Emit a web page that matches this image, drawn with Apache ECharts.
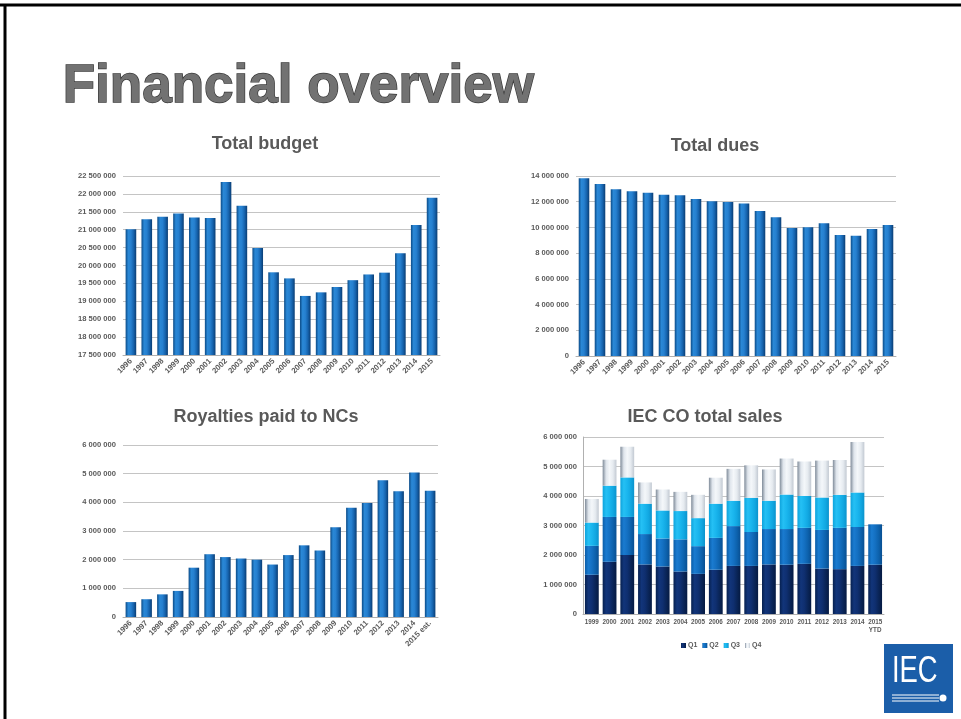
<!DOCTYPE html>
<html>
<head>
<meta charset="utf-8">
<script src="https://cdn.jsdelivr.net/npm/echarts@6/dist/echarts.min.js"></script>
<style>
html,body{margin:0;padding:0;background:#fff;}
#c{width:961px;height:719px;}
</style>
</head>
<body>
<div id="c"></div>
<script>
const years = ['1996','1997','1998','1999','2000','2001','2002','2003','2004','2005','2006','2007','2008','2009','2010','2011','2012','2013','2014','2015'];
const budget = [21010000,21290000,21360000,21450000,21340000,21330000,22330000,21670000,20490000,19810000,19640000,19150000,19250000,19400000,19590000,19750000,19800000,20340000,21130000,21890000];
const dues = [13820000,13380000,12960000,12810000,12700000,12550000,12500000,12210000,12030000,11980000,11870000,11280000,10790000,9960000,10010000,10320000,9410000,9360000,9880000,10190000];
const royaltyYears = ['1996','1997','1998','1999','2000','2001','2002','2003','2004','2005','2006','2007','2008','2009','2010','2011','2012','2013','2014','2015 est.'];
const royalties = [520000,620000,790000,910000,1720000,2190000,2090000,2040000,2000000,1830000,2160000,2500000,2320000,3130000,3810000,3980000,4770000,4390000,5040000,4400000];
const salesYears = ['1999','2000','2001','2002','2003','2004','2005','2006','2007','2008','2009','2010','2011','2012','2013','2014','2015\nYTD'];
const q1 = [1330000,1770000,2000000,1680000,1610000,1440000,1360000,1500000,1630000,1630000,1680000,1670000,1700000,1540000,1520000,1630000,1670000];
const q2 = [980000,1520000,1290000,1030000,950000,1090000,940000,1080000,1350000,1150000,1200000,1210000,1220000,1310000,1400000,1320000,1370000];
const q3 = [790000,1060000,1340000,1030000,950000,960000,950000,1160000,860000,1160000,960000,1170000,1080000,1100000,1120000,1170000,null];
const q4 = [800000,880000,1040000,720000,710000,650000,790000,880000,1080000,1100000,1060000,1220000,1170000,1250000,1180000,1710000,null];
const seriesNames = ['Q1','Q2','Q3','Q4'];

function fmt(v){ return String(v).replace(/\B(?=(\d{3})+(?!\d))/g,' '); }
function grad(stops){ return new echarts.graphic.LinearGradient(0,0,1,0,stops.map((c,i)=>({offset:i/(stops.length-1),color:c}))); }
const blueBar = grad(['#0b4a86','#2a88d6','#2680d0','#1663ad','#0a3d73']);
const cQ1 = grad(['#06204f','#12357a','#0f2f70','#0a2558','#051a42']);
const cQ2 = grad(['#0a5da8','#1a7bd0','#1470c2','#0d62ad','#084f92']);
const cQ3 = grad(['#0ea3dc','#25c0f4','#1ab6ee','#12a8e2','#0b93cc']);
const cQ4 = grad(['#7f8b99','#dfe5ec','#f4f7fa','#e6ebf0','#c2c9d2']);

const txt = '#595959';
const lbl = {color:txt,fontWeight:'bold',fontFamily:'Liberation Sans, Arial, sans-serif'};
const gridLine = {show:true,lineStyle:{color:'#c4c4c4',width:1}};

function yAx(i,min,max,interval,fs,margin,showLine){
  return {type:'value',gridIndex:i,min:min,max:max,interval:interval,
    axisLine:{show:!!showLine,lineStyle:{color:'#b0b0b0'}},axisTick:{show:false},
    splitLine:gridLine,
    axisLabel:Object.assign({fontSize:fs,margin:margin,formatter:fmt},lbl)};
}
function xAx(i,data,rotate,fs){
  return {type:'category',gridIndex:i,data:data,
    axisLine:{show:true,lineStyle:{color:'#b0b0b0'}},axisTick:{show:false},
    axisLabel:Object.assign({fontSize:fs,rotate:rotate,margin:5,interval:0,lineHeight:fs+1},lbl)};
}

const chart = echarts.init(document.getElementById('c'),null,{renderer:'canvas'});
const titleFont = {fontSize:18,fontWeight:'bold',color:txt,fontFamily:'Liberation Sans, Arial, sans-serif'};
chart.setOption({
  animation:false,
  backgroundColor:'#ffffff',
  title:[
    {text:'Total budget',left:260,top:130,textAlign:'center',textStyle:titleFont},
    {text:'Total dues',left:710,top:132,textAlign:'center',textStyle:titleFont},
    {text:'Royalties paid to NCs',left:261,top:403,textAlign:'center',textStyle:titleFont},
    {text:'IEC CO total sales',left:700,top:403,textAlign:'center',textStyle:titleFont}
  ],
  legend:{data:seriesNames,left:676,top:637,itemWidth:5,itemHeight:5,itemGap:5,icon:'rect',
    textStyle:{color:txt,fontWeight:'bold',fontSize:7,padding:[0,0,0,-3]}},
  grid:[
    {left:123,top:176,width:317,height:179},
    {left:576,top:176,width:320,height:180},
    {left:123,top:445,width:315,height:172},
    {left:583,top:437,width:301,height:177}
  ],
  xAxis:[xAx(0,years,45,7.8),xAx(1,years,45,7.8),xAx(2,royaltyYears,45,7.8),xAx(3,salesYears,0,6.3)],
  yAxis:[yAx(0,17500000,22500000,500000,7.6,7),yAx(1,0,14000000,2000000,7.6,7),yAx(2,0,6000000,1000000,7.6,7),yAx(3,0,6000000,1000000,7.6,6,true)],
  series:[
    {type:'bar',xAxisIndex:0,yAxisIndex:0,data:budget,barCategoryGap:'33%',itemStyle:{color:blueBar}},
    {type:'bar',xAxisIndex:1,yAxisIndex:1,data:dues,barCategoryGap:'34%',itemStyle:{color:blueBar}},
    {type:'bar',xAxisIndex:2,yAxisIndex:2,data:royalties,barCategoryGap:'33%',itemStyle:{color:blueBar}},
    {name:'Q1',type:'bar',stack:'s',xAxisIndex:3,yAxisIndex:3,data:q1,barCategoryGap:'22%',itemStyle:{color:cQ1}},
    {name:'Q2',type:'bar',stack:'s',xAxisIndex:3,yAxisIndex:3,data:q2,itemStyle:{color:cQ2}},
    {name:'Q3',type:'bar',stack:'s',xAxisIndex:3,yAxisIndex:3,data:q3,itemStyle:{color:cQ3}},
    {name:'Q4',type:'bar',stack:'s',xAxisIndex:3,yAxisIndex:3,data:q4,itemStyle:{color:cQ4}}
  ],
  graphic:[
    {type:'line',shape:{x1:0,y1:5,x2:961,y2:5},style:{stroke:'#000',lineWidth:3}},
    {type:'line',shape:{x1:5,y1:4,x2:5,y2:719},style:{stroke:'#000',lineWidth:3}},
    {type:'text',left:62,top:60,style:{text:'Financial overview',
      font:'bold 53px "Liberation Sans", Arial, sans-serif',
      fill:'#727272',stroke:'#3a3a3a',lineWidth:1.4}},
    {type:'group',left:884,top:644,children:[
      {type:'rect',shape:{x:0,y:0,width:69,height:69},style:{fill:'#1b5ea9'}},
      {type:'text',x:8,y:9,scaleX:0.74,style:{text:'IEC',font:'37px "Liberation Sans", Arial, sans-serif',fill:'#fff'}},
      {type:'line',shape:{x1:8,y1:51,x2:55,y2:51},style:{stroke:'#fff',lineWidth:1}},
      {type:'line',shape:{x1:8,y1:54,x2:55,y2:54},style:{stroke:'#fff',lineWidth:1}},
      {type:'line',shape:{x1:8,y1:57,x2:55,y2:57},style:{stroke:'#fff',lineWidth:1}},
      {type:'circle',shape:{cx:59,cy:54,r:3.5},style:{fill:'#fff'}}
    ]}
  ]
});
</script>
</body>
</html>
